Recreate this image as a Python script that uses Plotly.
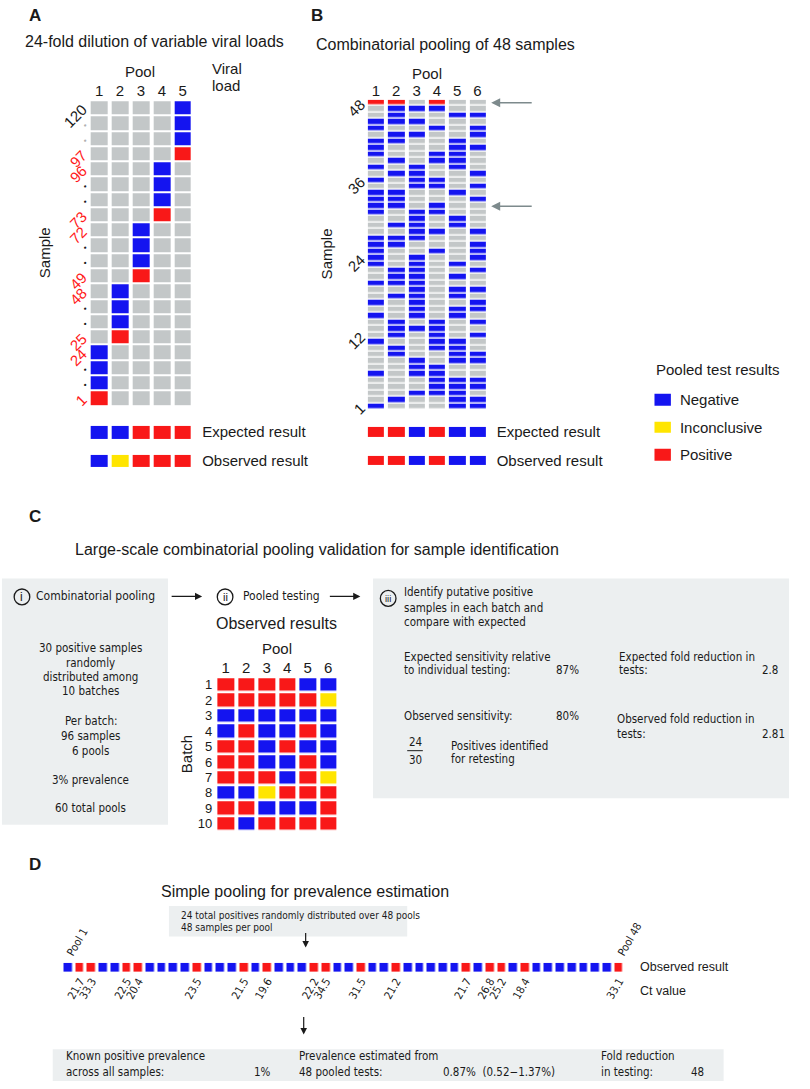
import plotly.graph_objects as go

W, H = 810, 1089
def px(x): return x / W
def py(y): return 1 - y / H

GREY = "#C3C7C8"; BLUE = "#1414F0"; YEL = "#FFE500"; RED = "#F91818"
TXT = "#1a1a1a"
SANS = "Liberation Sans, Arial, sans-serif"
NARROW = "Liberation Sans Narrow, DejaVu Sans Condensed, Arial Narrow, sans-serif"
CODE = {"G": 0, "B": 1, "Y": 2, "R": 3}
CS = [[0, GREY], [1/6, GREY], [1/6, BLUE], [0.5, BLUE], [0.5, YEL], [5/6, YEL], [5/6, RED], [1, RED]]

# ---------------- Panel A data ----------------
a_pools = ["1", "2", "3", "4", "5"]
a_sample_labels = ["120", "•", "•", "97", "96", "•", "•", "73", "72", "•", "•",
                   "49", "48", "•", "•", "25", "24", "•", "•", "1"]
a_label_colors = ["k", "g", "g", "r", "r", "k", "k", "r", "r", "k", "k",
                  "r", "r", "k", "k", "r", "r", "k", "k", "r"]
a_viral_load = ["0", "0", "0", "89,000", "0", "0", "0", "12,300", "0", "0", "0",
                "1280", "0", "0", "0", "140", "0", "0", "0", "11"]
a_grid = ["GGGGB", "GGGGB", "GGGGB", "GGGGR",
          "GGGBG", "GGGBG", "GGGBG", "GGGRG",
          "GGBGG", "GGBGG", "GGBGG", "GGRGG",
          "GBGGG", "GBGGG", "GBGGG", "GRGGG",
          "BGGGG", "BGGGG", "BGGGG", "RGGGG"]
a_expected = "BBRRR"
a_observed = "BYRRR"

# ---------------- Panel B data (sample 48 -> 1) ----------------
b_pools = ["1", "2", "3", "4", "5", "6"]
b_samples = list(range(48, 0, -1))
b_grid = ["RRGRGG", "GBBBGG", "GBGGBB", "BBBGGG", "BGGBGB", "GBBGGB",
          "BBGGBG", "BGGGBB", "BGGBBG", "GBGBBG", "BGBGBG", "GBBGGB",
          "BGBBGG", "GGBBGB", "BBGGBG", "BBGGGB", "BBGBGG", "BGBBGG",
          "GGBGBG", "GBBGBG", "GGBBGB", "BBBGGG", "BBGGGB", "BGGBGB",
          "BGBGGB", "BGBGBG", "GBBGGB", "GBBGBG", "BBBGGG", "GGBGBB",
          "GBBGBG", "BGBGGB", "GGBGBB", "BGBGBG", "GBGBGB", "GBBBGG",
          "GBGBGB", "BGGBBG", "GBGBBG", "GBGGBB", "GGBGBB", "GGBBGG",
          "BGBBGG", "GGGBBB", "GGGBBB", "GGBBBG", "GBGGBB", "BGGGBB"]
b_ticks = [48, 36, 24, 12, 1]
b_arrow_rows = [48, 32]
b_expected = "RRBRBB"
b_observed = "RRBRBB"
result_rows = ["Expected result", "Observed result"]
legend_labels = ["Negative", "Inconclusive", "Positive"]
legend_codes = "BYR"

# ---------------- Panel C data ----------------
c_pools = ["1", "2", "3", "4", "5", "6"]
c_batches = [str(i) for i in range(1, 11)]
c_grid = ["RRRRBB", "RRRRRY", "BBBBBB", "BRBBRB", "RRBRBB",
          "RRBBRB", "RRRBRY", "BBYRRR", "RRBBBR", "RBRRRR"]

# ---------------- Panel D data ----------------
d_results = "BRRBBRRBBB" "BRBBBRBRBB" "BRRBBRBBRB" "BBBBRBRRBR" "BBBBBBBR"
d_ct = ["21.7", "33.3", "22.5", "20.4", "23.5", "21.5", "19.6", "22.2",
        "34.5", "31.5", "21.2", "21.7", "26.8", "25.2", "18.4", "33.1"]
d_pool_labels = ["Pool 1", "Pool 48"]

def codes(rows):
    return [[CODE[c] for c in r] for r in rows]

def col(c):
    return {"k": TXT, "g": "#b0b0b0", "r": "#FF1A1A"}[c]

def tick_label(t, c):
    if t == "•":
        return f'<span style="color:{col(c)};font-size:8px">{t}</span>'
    return f'<span style="color:{col(c)}">{t}</span>'

fig = go.Figure()
hm = dict(colorscale=CS, zmin=0, zmax=3, showscale=False, hoverinfo="skip")

# Panel A grid
fig.add_trace(go.Heatmap(z=codes(a_grid), x=list(range(5)), y=list(range(20)),
                         xgap=4, ygap=2, xaxis="x", yaxis="y", **hm))
fig.add_trace(go.Scatter(x=[5.25] * 20, y=list(range(20)), mode="text", text=a_viral_load,
                         textposition="middle right", cliponaxis=False,
                         textfont=dict(size=15, color=TXT, family=SANS),
                         xaxis="x", yaxis="y", hoverinfo="skip"))
fig.add_trace(go.Heatmap(z=codes([a_expected, a_observed]), x=list(range(5)), y=[0, 1],
                         xgap=4, ygap=16, xaxis="x2", yaxis="y2", **hm))
# Panel B grid
fig.add_trace(go.Heatmap(z=codes(b_grid), x=list(range(6)), y=b_samples,
                         xgap=4, ygap=1.5, xaxis="x3", yaxis="y3", **hm))
fig.add_trace(go.Heatmap(z=codes([b_expected, b_observed]), x=list(range(6)), y=[0, 1],
                         xgap=4, ygap=19, xaxis="x4", yaxis="y4", **hm))
# Legend
fig.add_trace(go.Heatmap(z=codes([c for c in legend_codes]), x=[0], y=[0, 1, 2],
                         xgap=0, ygap=16, xaxis="x8", yaxis="y8", **hm))
# Panel C grid
fig.add_trace(go.Heatmap(z=codes(c_grid), x=list(range(6)), y=list(range(10)),
                         xgap=4, ygap=2.6, xaxis="x5", yaxis="y5", **hm))
# Panel D strip
fig.add_trace(go.Heatmap(z=codes([d_results]), x=list(range(48)), y=[0],
                         xgap=3.5, ygap=0, xaxis="x6", yaxis="y6", **hm))
fig.add_trace(go.Scatter(x=[None], y=[None], xaxis="x7", yaxis="y6", hoverinfo="skip"))

base = dict(showgrid=False, zeroline=False, showline=False, ticks="", fixedrange=True)
f15 = dict(size=15, color=TXT, family=SANS)
pos_idx = [i for i, c in enumerate(d_results) if c == "R"]

fig.update_layout(
    width=W, height=H, margin=dict(l=0, r=0, t=0, b=0),
    paper_bgcolor="white", plot_bgcolor="rgba(0,0,0,0)", showlegend=False,
    xaxis=dict(base, domain=[px(90.8), px(197.8)], range=[-0.5, 4.5], anchor="y", side="top",
               tickvals=list(range(5)), ticktext=a_pools, tickfont=f15),
    yaxis=dict(base, domain=[py(406.2), py(97.3)], range=[19.5, -0.5], anchor="x",
               tickvals=list(range(20)),
               ticktext=[tick_label(t, c) for t, c in zip(a_sample_labels, a_label_colors)],
               tickangle=-45, tickfont=f15, ticklabelstandoff=5),
    xaxis2=dict(base, domain=[px(90.8), px(197.8)], range=[-0.5, 4.5], anchor="y2", showticklabels=False),
    yaxis2=dict(base, domain=[py(476.5), py(418.5)], range=[1.5, -0.5], anchor="x2", side="right",
                tickvals=[0, 1], ticktext=result_rows, tickfont=f15, ticklabelstandoff=8),
    xaxis3=dict(base, domain=[px(374.6), px(499.4)], range=[-0.5, 5.5], anchor="y3", side="top",
                tickvals=list(range(6)), ticktext=b_pools, tickfont=f15),
    yaxis3=dict(base, domain=[py(410.3), py(96.7)], range=[0.5, 48.5], anchor="x3",
                tickvals=b_ticks, ticktext=[str(t) for t in b_ticks], tickangle=-45, tickfont=f15,
                ticklabelstandoff=4),
    xaxis4=dict(base, domain=[px(374.6), px(499.4)], range=[-0.5, 5.5], anchor="y4", showticklabels=False),
    yaxis4=dict(base, domain=[py(476.5), py(418.5)], range=[1.5, -0.5], anchor="x4", side="right",
                tickvals=[0, 1], ticktext=result_rows, tickfont=f15, ticklabelstandoff=8),
    xaxis8=dict(base, domain=[px(670), px(687)], range=[-0.5, 0.5], anchor="y8", showticklabels=False),
    yaxis8=dict(base, domain=[py(470), py(386)], range=[2.5, -0.5], anchor="x8", side="right",
                tickvals=[0, 1, 2], ticktext=legend_labels, tickfont=f15, ticklabelstandoff=8),
    xaxis5=dict(base, domain=[px(220.5), px(346.5)], range=[-0.5, 5.5], anchor="y5", side="top",
                tickvals=list(range(6)), ticktext=c_pools, tickfont=f15),
    yaxis5=dict(base, domain=[py(836.7), py(680.7)], range=[9.5, -0.5], anchor="x5",
                tickvals=list(range(10)), ticktext=c_batches, tickfont=dict(size=13, color=TXT, family=SANS),
                ticklabelstandoff=2),
    xaxis6=dict(base, domain=[px(64), px(640)], range=[-0.5, 47.5], anchor="y6", side="bottom",
                tickvals=pos_idx, ticktext=d_ct, tickangle=-60,
                tickfont=dict(size=11, color=TXT, family=NARROW)),
    xaxis7=dict(base, domain=[px(64), px(640)], range=[-0.5, 47.5], anchor="y6", side="top",
                overlaying="x6", tickvals=[0, 47], ticktext=d_pool_labels, tickangle=-60,
                tickfont=dict(size=11, color=TXT, family=NARROW)),
    yaxis6=dict(base, domain=[py(978.5), py(969.5)], range=[-0.5, 0.5], anchor="x6", showticklabels=False),
)

ann = []
shapes = []
def T(text, x, y, size=15, anchor="left", family=SANS, color=TXT, **kw):
    ann.append(dict(text=text, x=px(x), y=py(y), xref="paper", yref="paper", xanchor=anchor,
                    yanchor="middle", showarrow=False,
                    font=dict(size=size, color=color, family=family), **kw))

def box(x0, y0, x1, y1, color="#ECEFF0"):
    shapes.append(dict(type="rect", xref="paper", yref="paper", x0=px(x0), x1=px(x1),
                       y0=py(y1), y1=py(y0), fillcolor=color, line=dict(width=0), layer="below"))

def circ(cx, cy, r, label, size):
    shapes.append(dict(type="circle", xref="paper", yref="paper", x0=px(cx - r), x1=px(cx + r),
                       y0=py(cy + r), y1=py(cy - r), line=dict(color=TXT, width=1.3)))
    T(label, cx, cy, size=size, anchor="center", family=SANS)

def arrow(x0, y0, x1, y1, color=TXT, width=1.3):
    ann.append(dict(x=px(x1), y=py(y1), xref="paper", yref="paper", ax=x0 - x1, ay=y0 - y1,
                    axref="pixel", ayref="pixel", text="", showarrow=True, arrowhead=2,
                    arrowsize=1.1, arrowwidth=width, arrowcolor=color))

# Panel labels
for lab, x, y in [("A", 36, 12), ("B", 325, 12), ("C", 36, 518), ("D", 36, 870)]:
    T(f"<b>{lab}</b>", x, y, size=17, anchor="center")

# Panel A
T("24-fold dilution of variable viral loads", 24, 38, size=16)
T("Pool", 143, 68, anchor="center")
T("Viral", 215, 65)
T("load", 215, 82)
T("Sample", 45, 251, anchor="center", textangle=-90)

# Panel B
T("Combinatorial pooling of 48 samples", 322, 41, size=16)
T("Pool", 437, 70, anchor="center")
T("Sample", 334, 253, anchor="center", textangle=-90)
for r in b_arrow_rows:
    ann.append(dict(x=px(503), y=r, xref="paper", yref="y3", ax=42, ay=0, axref="pixel", ayref="pixel",
                    text="", showarrow=True, arrowhead=2, arrowsize=1.2, arrowwidth=1.5,
                    arrowcolor="#7d8a8c"))
T("Pooled test results", 670, 370)

# Panel C
T("Large-scale combinatorial pooling validation for sample identification", 75, 552, size=16)
box(2, 581, 172, 830)
box(382, 581, 808, 803)
circ(22.5, 599.5, 8, "i", 12)
T("Combinatorial pooling", 35, 599, size=12, family=NARROW)
arrow(175, 599, 207, 599)
circ(230.5, 599.5, 8, "ii", 11)
T("Pooled testing", 247, 599, size=12, family=NARROW)
arrow(337, 599, 369, 599)
circ(397.5, 601, 8, "iii", 9.5)
for txt, y in [("30 positive samples", 651), ("randomly", 666), ("distributed among", 680),
               ("10 batches", 695), ("Per batch:", 725), ("96 samples", 740), ("6 pools", 755),
               ("3% prevalence", 785), ("60 total pools", 813)]:
    T(txt, 93, y, size=11.5, anchor="center", family=NARROW)
T("Observed results", 283, 626, size=16, anchor="center")
T("Pool", 283.5, 652, anchor="center")
T("Batch", 191, 759, anchor="center", textangle=-90)
for txt, x, y in [("Identify putative positive", 412, 595), ("samples in each batch and", 412, 611),
                  ("compare with expected", 412, 625),
                  ("Expected sensitivity relative", 412, 660), ("to individual testing:", 412, 673),
                  ("87%", 567, 673),
                  ("Expected fold reduction in", 632, 660), ("tests:", 632, 673), ("2.8", 778, 673),
                  ("Observed sensitivity:", 412, 720), ("80%", 567, 720),
                  ("Observed fold reduction in", 630, 723), ("tests:", 630, 738), ("2.81", 778, 738),
                  ("24", 425, 746), ("30", 425, 764),
                  ("Positives identified", 460, 750), ("for retesting", 460, 763)]:
    T(txt, x, y, size=11.5, anchor="center" if txt in ("24", "30") else "left", family=NARROW)
shapes.append(dict(type="line", xref="paper", yref="paper", x0=px(417), x1=px(433),
                   y0=py(755), y1=py(755), line=dict(color=TXT, width=1)))

# Panel D
T("Simple pooling for prevalence estimation", 163, 897, size=16)
box(173, 912, 417, 943)
T("24 total positives randomly distributed over 48 pools", 183, 922, size=10, family=NARROW)
T("48 samples per pool", 183, 934, size=10, family=NARROW)
arrow(313, 938, 313, 954, width=1.2)
T("Observed result", 653, 974, size=12.5)
T("Ct value", 653, 998, size=12.5)
arrow(311, 1023, 311, 1042, width=1.2)
box(54, 1057, 741, 1089)
for txt, x, y in [("Known positive prevalence", 66, 1064), ("across all samples:", 66, 1080),
                  ("1%", 258, 1080), ("Prevalence estimated from", 304, 1064),
                  ("48 pooled tests:", 304, 1080), ("0.87%  (0.52\u22121.37%)", 452, 1080),
                  ("Fold reduction", 613, 1064), ("in testing:", 613, 1080), ("48", 706, 1080)]:
    T(txt, x, y, size=11.5, family=NARROW)

fig.update_layout(annotations=ann, shapes=shapes)
fig.write_html("out.html", config={"displayModeBar": False},
               post_script="document.body.style.margin='0px';")
